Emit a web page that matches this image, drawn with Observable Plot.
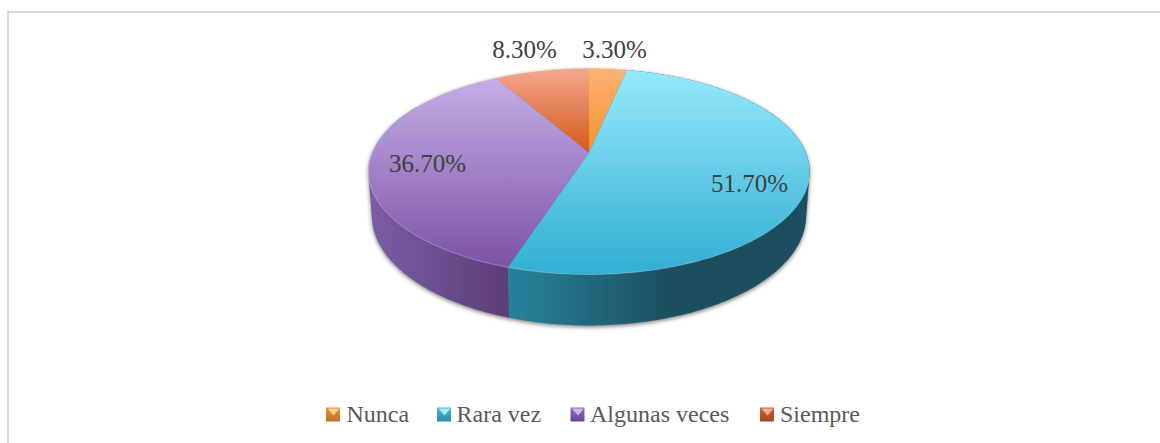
<!DOCTYPE html>
<html>
<head>
<meta charset="utf-8">
<script src="https://cdn.jsdelivr.net/npm/d3@7"></script>
<script src="https://cdn.jsdelivr.net/npm/@observablehq/plot@0.6"></script>
<style>
html,body{margin:0;padding:0;background:#fff;overflow:hidden}
svg{display:block}
</style>
</head>
<body>
<div id="chart"></div>
<script>
const categories = ["Nunca", "Rara vez", "Algunas veces", "Siempre"];
const values = [3.3, 51.7, 36.7, 8.3];
const topGradients = [["#fbb273", "#f8912a"], ["#97e9fc", "#30aed3"], ["#c4aee6", "#7d52a6"], ["#f4a78f", "#d5581a"]];
const wallGradients = [["#c87a2e", "#c87a2e"], ["#27829c", "#1b4f60"], ["#7b5ca6", "#5c3d77"], ["#a8532a", "#a8532a"]];
const swatchColors = [["#fbd183", "#e8913c", "#b86f2c"], ["#a4eaf8", "#4cb9d6", "#2f8aa5"], ["#cdb9ec", "#8f6cbe", "#67478f"], ["#f6b094", "#d0643a", "#9c4a28"]];

const W = 1160, H = 443;
// perspective view of the pie disc
const cx = 588.5, persp = -0.1845;
const topDisc = {d: 216.8, a: 71.4, b: 152};
const baseDisc = {d: 213.4, a: 70.3, b: 194.7};
const project = (disc, deg) => {
  const t = deg * Math.PI / 180, px = Math.sin(t), py = -Math.cos(t), w = 1 + persp * py;
  return {x: cx + disc.d * px / w, y: (disc.a * py + disc.b) / w};
};
const arc = (disc, from, to) => {
  const n = Math.max(2, Math.ceil(Math.abs(to - from)));
  return d3.range(n + 1).map(i => project(disc, from + (to - from) * i / n));
};
const hull = pts => d3.polygonHull(pts.map(p => [p.x, p.y])).map(([x, y]) => ({x, y}));

const ends = Array.from(d3.cumsum(values)).map(v => v * 3.6);
const slices = categories.map((name, i) => ({name, i, from: i ? ends[i - 1] : 0, to: ends[i]}));

const facePts = slices.flatMap(s => [
  {name: s.name, x: cx, y: topDisc.b},
  ...arc(topDisc, s.from, s.to).map(p => ({...p, name: s.name}))
]);
const wallPts = slices.filter(s => s.i === 1 || s.i === 2).flatMap(s => {
  const from = s.from, to = Math.min(s.to, 300);
  return hull([...arc(topDisc, from, to), ...arc(baseDisc, to, from)]).map(p => ({...p, name: s.name}));
});
const shadowPts = hull([...arc(topDisc, 0, 359), ...arc(baseDisc, 0, 359)]).map(p => ({x: p.x, y: p.y + 1.5}));
const rimPts = arc(topDisc, 105, 285);

const labelAnchors = [[614, 57], [749, 191], [427, 171], [524, 57]];
const labels = values.map((v, i) => ({text: v.toFixed(2) + "%", x: labelAnchors[i][0], y: labelAnchors[i][1]}));
const legendSwatchX = [326, 437, 570.5, 760];
const legendTextX = [346, 456, 589.5, 779.5];
const legend = categories.map((name, i) => ({name, i, sx: legendSwatchX[i], tx: legendTextX[i]}));
const swatchInner = legend.flatMap(l => [
  {name: l.name, x: l.sx + 1, y: 408}, {name: l.name, x: l.sx + 13, y: 408}, {name: l.name, x: l.sx + 7, y: 415}
]);

const defs = () => {
  const g = document.createElementNS("http://www.w3.org/2000/svg", "g");
  let s = "<defs>";
  topGradients.forEach((c, i) => {
    s += `<linearGradient id="top${i}" x1="0" y1="0" x2="0" y2="1"><stop offset="0" stop-color="${c[0]}"/><stop offset="1" stop-color="${c[1]}"/></linearGradient>`;
  });
  s += `<linearGradient id="wall1" gradientUnits="userSpaceOnUse" x1="508" y1="0" x2="670" y2="0"><stop offset="0" stop-color="${wallGradients[1][0]}"/><stop offset="1" stop-color="${wallGradients[1][1]}"/></linearGradient>`;
  s += `<linearGradient id="wall2" gradientUnits="userSpaceOnUse" x1="372" y1="0" x2="508" y2="0"><stop offset="0" stop-color="${wallGradients[2][0]}"/><stop offset="1" stop-color="${wallGradients[2][1]}"/></linearGradient>`;
  swatchColors.forEach((c, i) => {
    s += `<linearGradient id="sw${i}" x1="0" y1="0" x2="0" y2="1"><stop offset="0" stop-color="${c[1]}"/><stop offset="1" stop-color="${c[2]}"/></linearGradient>`;
  });
  s += "</defs>";
  g.innerHTML = s;
  return g;
};

const serif = "'Liberation Serif', serif";
const idx = name => categories.indexOf(name);
const chart = Plot.plot({
  width: W, height: H,
  margin: 0,
  x: {domain: [0, W], range: [0, W], axis: null},
  y: {domain: [0, H], range: [0, H], axis: null},
  marks: [
    defs,
    Plot.ruleY([11.5], {x1: 7, x2: W, stroke: "#d9d9d9", strokeWidth: 2}),
    Plot.ruleX([7.5], {y1: 10.5, y2: H, stroke: "#d9d9d9", strokeWidth: 2}),
    Plot.line(shadowPts, {x: "x", y: "y", curve: "linear-closed", fill: "#777", stroke: "none", imageFilter: "blur(2px)"}),
    ...slices.filter(s => s.i === 1 || s.i === 2).map(s =>
      Plot.line(wallPts.filter(p => p.name === s.name), {x: "x", y: "y", curve: "linear-closed", fill: `url(#wall${s.i})`, stroke: "none"})
    ),
    ...slices.map(s =>
      Plot.line(facePts.filter(p => p.name === s.name), {x: "x", y: "y", curve: "linear-closed", fill: `url(#top${s.i})`, stroke: "none"})
    ),
    Plot.line(rimPts, {x: "x", y: "y", stroke: "#fff", strokeOpacity: 0.3, strokeWidth: 1}),
    Plot.text(labels, {x: "x", y: "y", text: "text", fontFamily: serif, fontSize: 25, fill: "#404040", lineAnchor: "bottom"}),
    ...legend.map(l =>
      Plot.rect([l], {x1: d => d.sx, x2: d => d.sx + 14, y1: () => 407.5, y2: () => 421.5, fill: `url(#sw${l.i})`})
    ),
    ...legend.map(l =>
      Plot.line(swatchInner.filter(p => p.name === l.name), {x: "x", y: "y", curve: "linear-closed", fill: swatchColors[idx(l.name)][0], stroke: "none", imageFilter: "blur(0.6px)"})
    ),
    Plot.text(legend, {x: "tx", y: () => 421, text: "name", textAnchor: "start", fontFamily: serif, fontSize: 24, fill: "#595959", lineAnchor: "bottom"})
  ]
});
document.getElementById("chart").appendChild(chart);
</script>
</body>
</html>
